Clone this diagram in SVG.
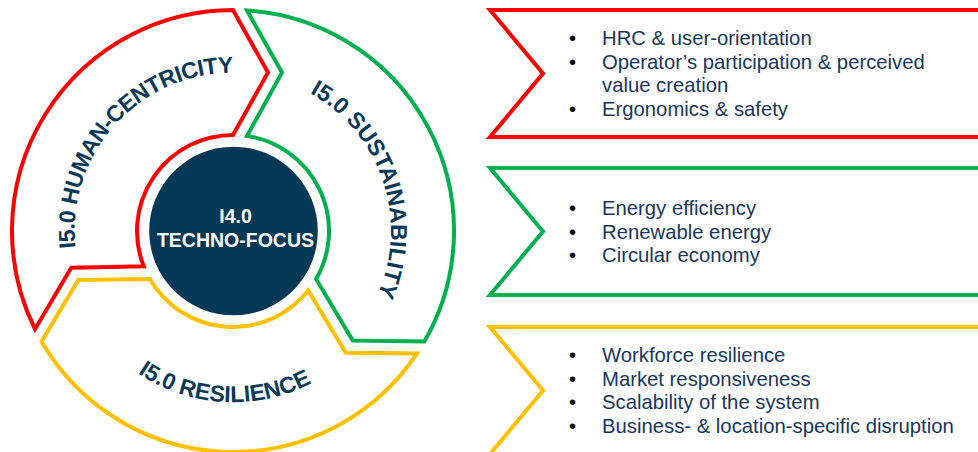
<svg xmlns="http://www.w3.org/2000/svg" xmlns:xlink="http://www.w3.org/1999/xlink" width="978" height="452" viewBox="0 0 978 452">
  <style>
    .seg { fill: #ffffff; stroke-width: 4; stroke-linejoin: miter; }
    .red { stroke: #ff0000; }
    .green { stroke: #00b050; }
    .yellow { stroke: #ffc000; }
    .arc-label { font-family: "Liberation Sans", Arial, sans-serif; font-weight: bold; font-size: 23px; fill: #063a5b; }
    .core-label { font-family: "Liberation Sans", Arial, sans-serif; font-weight: bold; font-size: 19.5px; fill: #ffffff; }
    .item { font-family: "Liberation Sans", Arial, sans-serif; font-size: 20.3px; fill: #17375e; }
    .dot { font-family: "Liberation Sans", Arial, sans-serif; font-size: 20px; fill: #000000; }
  </style>
  <defs>
    <!-- baselines for the curved ring titles, centred on (233,231) -->
    <path id="p-human" d="M 117.4 338.8 A 158 158 0 0 1 328.1 104.8"/>
    <path id="p-sustain" d="M 196.1 77.4 A 158 158 0 0 1 296 375.9"/>
    <path id="p-resil" d="M 62.1 236.4 A 171 171 0 0 0 402.3 255.4"/>
  </defs>

  <rect width="978" height="452" fill="#ffffff"/>

  <!-- ring segments: each ends in a chevron tip and starts with a matching notch -->
  <g id="ring-human">
    <path class="seg red" d="M 34.99 329.16 A 221 221 0 0 1 233 10 L 268 72.5 L 233 135 A 96 96 0 0 0 143.75 266.36 L 71.24 267.82 Z"/>
    <text class="arc-label" letter-spacing="-0.5"><textPath xlink:href="#p-human" href="#p-human" startOffset="50%" text-anchor="middle">I5.0 HUMAN-CENTRICITY</textPath></text>
  </g>
  <g id="ring-sustain">
    <path class="seg green" d="M 247 10.44 A 221 221 0 0 1 424.39 341.5 L 352.76 340.56 L 316.14 279 A 96 96 0 0 0 247 136.03 L 282 72.5 Z"/>
    <text class="arc-label"><textPath xlink:href="#p-sustain" href="#p-sustain" startOffset="50%" text-anchor="middle">I5.0 SUSTAINABILITY</textPath></text>
  </g>
  <g id="ring-resilience">
    <path class="seg yellow" d="M 417.01 353.4 A 221 221 0 0 1 41.61 341.5 L 78.24 279.94 L 149.86 279 A 96 96 0 0 0 308.25 290.61 L 345.76 352.68 Z"/>
    <text class="arc-label" font-size="24"><textPath xlink:href="#p-resil" href="#p-resil" startOffset="50%" text-anchor="middle">I5.0 RESILIENCE</textPath></text>
  </g>

  <!-- central hub -->
  <g id="core">
    <circle cx="233.5" cy="231" r="84.3" fill="#033856"/>
    <text class="core-label" x="235.5" y="222.5" text-anchor="middle">I4.0</text>
    <text class="core-label" x="235.5" y="246.5" text-anchor="middle">TECHNO-FOCUS</text>
  </g>

  <!-- notched banners listing the aspects of each dimension -->
  <g id="panel-human">
    <path class="seg red" d="M 990 10 L 490 10 L 543 73.5 L 490 137 L 990 137"/>
    <text class="dot" x="569" y="45">•</text>
    <text class="item" x="602" y="45">HRC &amp; user-orientation</text>
    <text class="dot" x="569" y="68.7">•</text>
    <text class="item" x="602" y="68.7">Operator’s participation &amp; perceived</text>
    <text class="item" x="602" y="92.4">value creation</text>
    <text class="dot" x="569" y="116.1">•</text>
    <text class="item" x="602" y="116.1">Ergonomics &amp; safety</text>
  </g>
  <g id="panel-sustain">
    <path class="seg green" d="M 990 168 L 490 168 L 543 231.5 L 490 295 L 990 295"/>
    <text class="dot" x="569" y="215">•</text>
    <text class="item" x="602" y="215">Energy efficiency</text>
    <text class="dot" x="569" y="238.7">•</text>
    <text class="item" x="602" y="238.7">Renewable energy</text>
    <text class="dot" x="569" y="262.4">•</text>
    <text class="item" x="602" y="262.4">Circular economy</text>
  </g>
  <g id="panel-resilience">
    <path class="seg yellow" d="M 990 327 L 490 327 L 543 390.5 L 490 454 L 990 454"/>
    <text class="dot" x="569" y="362">•</text>
    <text class="item" x="602" y="362">Workforce resilience</text>
    <text class="dot" x="569" y="385.7">•</text>
    <text class="item" x="602" y="385.7">Market responsiveness</text>
    <text class="dot" x="569" y="409.4">•</text>
    <text class="item" x="602" y="409.4">Scalability of the system</text>
    <text class="dot" x="569" y="433.1">•</text>
    <text class="item" x="602" y="433.1">Business- &amp; location-specific disruption</text>
  </g>
</svg>
